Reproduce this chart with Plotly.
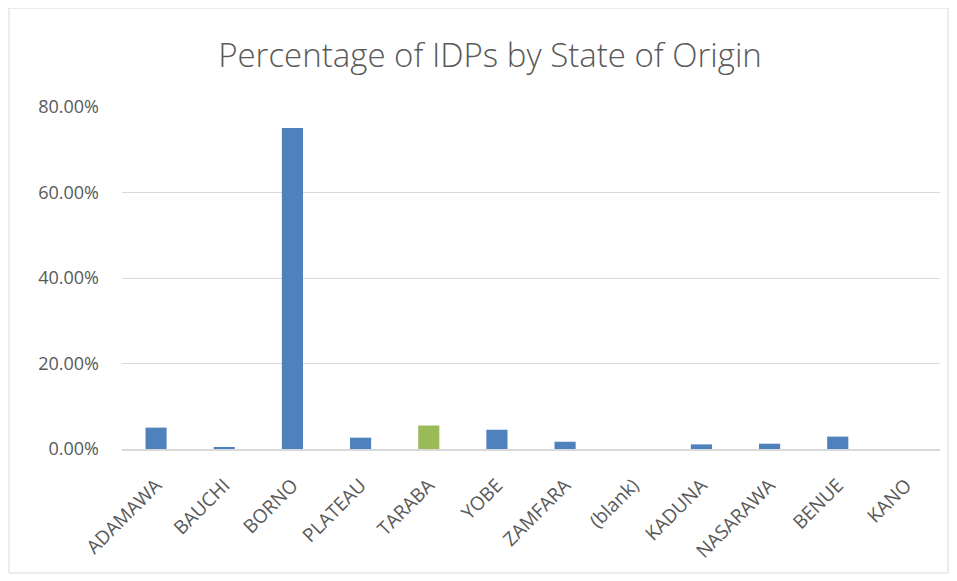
import plotly.graph_objects as go

states = ["ADAMAWA", "BAUCHI", "BORNO", "PLATEAU", "TARABA", "YOBE", "ZAMFARA",
          "(blank)", "KADUNA", "NASARAWA", "BENUE", "KANO"]
pct = [0.050, 0.0047, 0.751, 0.0265, 0.055, 0.045, 0.017, 0.0, 0.0108, 0.0124, 0.029, 0.0]
colors = ["#4F81BD"] * 4 + ["#9BBB59"] + ["#4F81BD"] * 7
tick_vals = [0, 0.2, 0.4, 0.6, 0.8]

fig = go.Figure(go.Bar(x=states, y=pct, marker=dict(color=colors, line=dict(width=0)),
                       hoverinfo="x+y"))

# page body has an 8px margin, so figure coordinates are offset by 8px
OFF = 8
W, H = 957 - OFF, 581 - OFF
L, R, T, B = 122 - OFF, 940 - OFF, 107 - OFF, 449 - OFF
FONT = "Open Sans"
fig.update_layout(
    width=W, height=H,
    margin=dict(l=L, r=W - R, t=T, b=H - B, pad=0),
    paper_bgcolor="white", plot_bgcolor="white",
    bargap=0.69,
    showlegend=False,
    title=dict(text="Percentage of IDPs by State of Origin", x=(490 - OFF) / W, xref="container",
               xanchor="center", y=1 - (55 - OFF) / H, yanchor="middle",
               font=dict(family=FONT, size=33, color="#595959", weight=300)),
    font=dict(family=FONT, color="#595959", size=18),
    xaxis=dict(tickangle=-45, showgrid=False, showline=True, linecolor="#D9D9D9", linewidth=1.5,
               ticks="", ticklabelstandoff=16, tickfont=dict(size=19, color="#595959")),
    yaxis=dict(range=[0, 0.8], tickvals=tick_vals, tickformat=".2%", showgrid=True,
               gridcolor="#D9D9D9", gridwidth=1, zeroline=False, ticks="",
               ticklabelstandoff=22,
               tickfont=dict(size=18, color="#595959")),
)
fig.add_shape(type="rect", xref="paper", yref="paper",
              x0=(9 - OFF - L) / (R - L), x1=(948 - OFF - L) / (R - L),
              y0=(B - (573 - OFF)) / (B - T), y1=(B - (8 - OFF)) / (B - T),
              line=dict(color="#D9D9D9", width=1), fillcolor="rgba(0,0,0,0)", layer="below")
fig.write_html("out.html")
